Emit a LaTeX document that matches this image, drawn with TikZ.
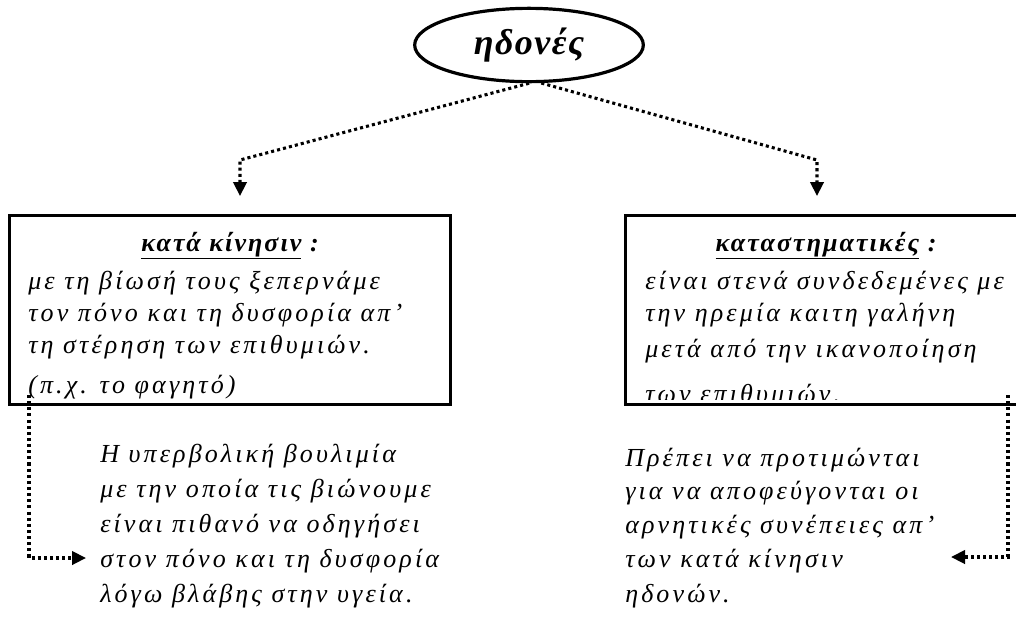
\documentclass[tikz,border=0pt]{standalone}
\usepackage{fontspec}
\setmainfont{Liberation Serif}
\usetikzlibrary{arrows.meta,shapes.geometric,calc}
\begin{document}
\begin{tikzpicture}[x=0.75pt,y=-0.75pt,
  dots/.style={line width=2.3pt, dash pattern=on 2.3pt off 2.3pt},
  tipend/.style={-{Triangle[width=10pt,length=10.5pt]}},
  box/.style={draw, line width=2.4pt, inner sep=0pt, outer sep=0pt, fill=white},
  body/.style={inner sep=0pt, anchor=base west, align=left,
    font=\itshape\fontsize{19.5}{26.25}\selectfont\addfontfeature{LetterSpace=12}},
  ttl/.style={inner sep=0pt, anchor=base,
    font=\bfseries\itshape\fontsize{19.5}{22}\selectfont\addfontfeature{LetterSpace=8}},
]
\useasboundingbox (0,0) rectangle (1016,618);
% top ellipse
\node[draw, ellipse, line width=2.4pt, inner sep=0pt, minimum width=171.5pt, minimum height=55pt,
  font=\bfseries\itshape\fontsize{27}{32}\selectfont\addfontfeature{LetterSpace=4}] (e) at (529,45) {ηδονές};
% boxes
\node[box, minimum width=330.75pt, minimum height=141.75pt] (lbox) at (230,310) {};
\node[box, minimum width=297pt, minimum height=141.75pt] (rbox) at (823.5,310) {};
% box texts
\node[ttl] (lttl) at (230,251) {\underline{κατά κίνησιν} :};
\node[ttl] (rttl) at (826,251) {\underline{καταστηματικές} :};
\begin{scope}
\clip (12,216) rectangle (449,401);
\node[body] (lbody) at (28,393) {με τη βίωσή τους ξεπερνάμε\\[-2.3pt]
τον πόνο και τη δυσφορία απ’\\[-2.3pt]
τη στέρηση των επιθυμιών.\\[3.5pt]
(π.χ. το φαγητό)};
\end{scope}
\begin{scope}
\clip (628,216) rectangle (1016,399);
\node[body] (rbody) at (645,402) {είναι στενά συνδεδεμένες με\\[-1.8pt]
την ηρεμία καιτη γαλήνη\\[0.5pt]
μετά από την ικανοποίηση\\[7.3pt]
των επιθυμιών.};
\end{scope}
% lower texts
\node[body] (ltxt) at (100,602) {Η υπερβολική βουλιμία\\
με την οποία τις βιώνουμε\\
είναι πιθανό να οδηγήσει\\
στον πόνο και τη δυσφορία\\
λόγω βλάβης στην υγεία.};
\node[body] (rtxt) at (625,602) {Πρέπει να προτιμώνται\\[-1pt]
για να αποφεύγονται οι\\[-1pt]
αρνητικές συνέπειες απ’\\[-1pt]
των κατά κίνησιν\\
ηδονών.};
% connectors
\coordinate (lk) at (240,160);
\coordinate (lt) at (240,196);
\coordinate (rk) at (817,160);
\coordinate (rt) at (817,196);
\draw[dots, tipend] (e.south) -- (lk) -- (lt);
\draw[dots, tipend] (e.-72) -- (rk) -- (rt);
\coordinate (ls) at (29,395);
\coordinate (lc) at (29,558);
\coordinate (la) at (86,558);
\coordinate (rs) at (1008,395);
\coordinate (rc) at (1008,557);
\coordinate (ra) at (951,557);
\draw[dots, tipend] (ls) -- (lc) -- (la);
\draw[dots, tipend] (rs) -- (rc) -- (ra);
\end{tikzpicture}
\end{document}
